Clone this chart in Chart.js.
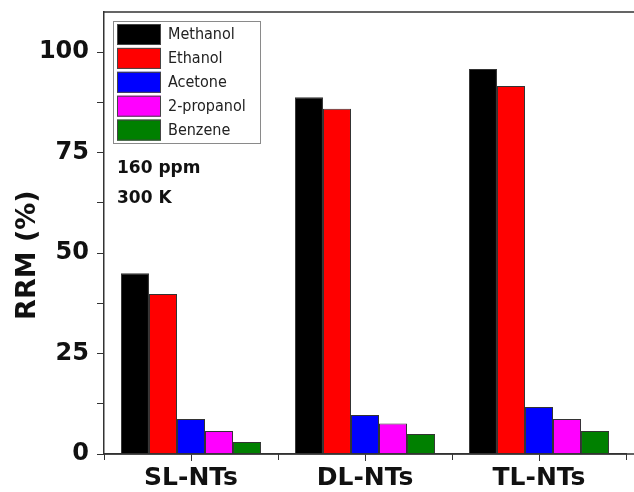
<!DOCTYPE html>
<html lang="en">
<head>
    <meta charset="UTF-8">
    <title>RRM of nanotubes</title>
    <script src="https://cdn.jsdelivr.net/npm/chart.js@4.4.0/dist/chart.umd.min.js"></script>
    <style>
        body { margin: 0; background: #fff; overflow: hidden; }
        #wrap { width: 634px; height: 492px; position: relative; }
    </style>
</head>
<body>
    <div id="wrap"><canvas id="chart"></canvas></div>

    <script>
        const categories = ['SL-NTs', 'DL-NTs', 'TL-NTs'];
        const solvents = ['Methanol', 'Ethanol', 'Acetone', '2-propanol', 'Benzene'];
        const colors = ['#000000', '#ff0000', '#0000ff', '#ff00ff', '#008000'];
        const methanol = [45.0, 88.8, 95.8];
        const ethanol = [39.8, 85.9, 91.6];
        const acetone = [8.7, 9.7, 11.7];
        const propanol = [5.7, 7.6, 8.7];
        const benzene = [3.0, 5.0, 5.7];
        const yTicks = [0, 25, 50, 75, 100];
        const yTitle = 'RRM (%)';
        const notes = ['160 ppm', '300 K'];

        const series = [methanol, ethanol, acetone, propanol, benzene];
        const boldFont = '"DejaVu Sans", sans-serif';

        // frame line, minor ticks, axis title, note text and boxed legend
        const extras = {
            id: 'extras',
            afterDraw(chart) {
                const ctx = chart.ctx;
                const area = chart.chartArea;
                const W = chart.width;
                const x = chart.scales.x;
                const y = chart.scales.y;
                ctx.save();
                ctx.strokeStyle = '#333';
                ctx.lineWidth = 1.5;
                ctx.beginPath();
                ctx.moveTo(area.left, area.top);
                ctx.lineTo(W, area.top);
                ctx.moveTo(area.left, area.bottom);
                ctx.lineTo(W, area.bottom);
                ctx.stroke();

                // minor ticks between categories
                ctx.lineWidth = 1;
                const half = (x.getPixelForValue(1) - x.getPixelForValue(0)) / 2;
                ctx.beginPath();
                for (let i = 0; i <= categories.length; i++) {
                    const px = Math.round(x.getPixelForValue(i) - half) + 0.5;
                    ctx.moveTo(px, area.bottom);
                    ctx.lineTo(px, area.bottom + 6);
                }
                ctx.stroke();

                // y axis title, centred a bit below the middle like the original
                ctx.save();
                ctx.translate(28, y.getPixelForValue(49.5));
                ctx.rotate(-Math.PI / 2);
                ctx.fillStyle = '#111';
                ctx.font = 'bold 27px ' + boldFont;
                ctx.textAlign = 'center';
                ctx.textBaseline = 'middle';
                ctx.fillText(yTitle, 0, 0);
                ctx.restore();

                // notes
                ctx.fillStyle = '#111';
                ctx.font = 'bold 17px ' + boldFont;
                ctx.textBaseline = 'alphabetic';
                ctx.fillText(notes[0], area.left + 13, area.top + 161);
                ctx.fillText(notes[1], area.left + 13, area.top + 191);

                // legend
                const lx = area.left + 9, ly = area.top + 9;
                ctx.strokeStyle = '#8a8a8a';
                ctx.lineWidth = 1;
                ctx.strokeRect(lx + 0.5, ly + 0.5, 147, 122);
                ctx.font = '16px "DejaVu Sans Condensed", "DejaVu Sans", sans-serif';
                ctx.textBaseline = 'middle';
                chart.data.datasets.forEach((ds, i) => {
                    const top = ly + 3 + i * 23.9;
                    ctx.fillStyle = ds.backgroundColor;
                    ctx.fillRect(lx + 4, top, 44, 21);
                    ctx.strokeStyle = '#444';
                    ctx.strokeRect(lx + 4.5, top + 0.5, 43, 20);
                    ctx.fillStyle = '#222';
                    ctx.fillText(ds.label, lx + 55, top + 11);
                });
                ctx.restore();
            }
        };

        new Chart(document.getElementById('chart'), {
            type: 'bar',
            data: {
                labels: categories,
                datasets: solvents.map((name, i) => ({
                    label: name,
                    data: series[i],
                    backgroundColor: colors[i],
                    borderColor: '#333',
                    borderWidth: 1,
                    borderSkipped: 'bottom',
                    categoryPercentage: 0.805,
                    barPercentage: 1.0
                }))
            },
            options: {
                responsive: true,
                maintainAspectRatio: false,
                animation: false,
                layout: { padding: { top: 12, right: 8, left: 0, bottom: 0 } },
                plugins: {
                    legend: { display: false },
                    tooltip: { enabled: false }
                },
                scales: {
                    x: {
                        offset: true,
                        grid: {
                            offset: false,
                            drawOnChartArea: false,
                            tickLength: 7,
                            color: '#333'
                        },
                        border: { display: true, color: '#333', width: 1.5 },
                        ticks: {
                            color: '#111',
                            padding: 2,
                            font: { family: boldFont, size: 25, weight: 'bold' }
                        },
                        afterFit(scale) { scale.height = 38; }
                    },
                    y: {
                        min: 0,
                        max: 110,
                        grid: {
                            drawOnChartArea: false,
                            tickLength: 7,
                            color: '#333'
                        },
                        border: { display: true, color: '#333', width: 1.5 },
                        afterBuildTicks(scale) {
                            const list = [];
                            yTicks.forEach((v, i) => {
                                list.push({ value: v });
                                if (i < yTicks.length - 1) list.push({ value: (v + yTicks[i + 1]) / 2 });
                            });
                            scale.ticks = list;
                        },
                        ticks: {
                            color: '#111',
                            padding: 8,
                            font: { family: boldFont, size: 24, weight: 'bold' },
                            callback: (v) => yTicks.includes(v) ? v : ''
                        },
                        afterFit(scale) {
                            scale.width = 104;
                            scale.paddingTop = 0;
                            scale.paddingBottom = 0;
                        }
                    }
                }
            },
            plugins: [extras]
        });
    </script>
</body>
</html>
